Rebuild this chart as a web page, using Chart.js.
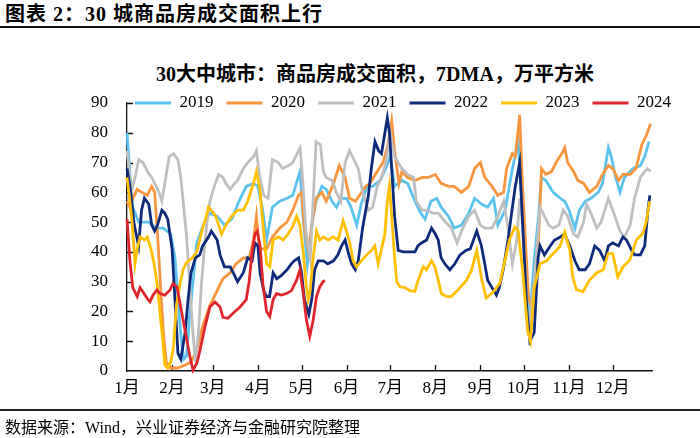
<!DOCTYPE html>
<html><head><meta charset="utf-8">
<script src="https://cdn.jsdelivr.net/npm/chart.js@4.4.1/dist/chart.umd.min.js"></script>
<style>
html,body{margin:0;padding:0;background:#fff;}
#wrap{position:relative;width:700px;height:438px;overflow:hidden;background:#fff;}
#c{position:absolute;left:0;top:0;}
.hdr{position:absolute;left:5px;top:14px;transform:translateY(-50%);font:bold 20px "Liberation Serif","Noto Sans CJK SC";letter-spacing:1px;color:#000;white-space:nowrap;line-height:1;}
.hl{position:absolute;left:0;top:26px;width:700px;height:2px;background:#111;}
.ttl{position:absolute;left:375px;top:74px;transform:translate(-50%,-50%);font:bold 20px "Liberation Serif","Noto Sans CJK SC";color:#000;white-space:nowrap;line-height:1;}
.fl{position:absolute;left:0;top:409px;width:700px;height:1.5px;background:#222;}
.ftr{position:absolute;left:5px;top:428px;transform:translateY(-50%);font:16px "Liberation Serif","Noto Sans CJK SC";color:#000;white-space:nowrap;line-height:1;}
</style></head>
<body>
<div id="wrap">
<div class="hdr">图表 2：30 城商品房成交面积上行</div>
<div class="hl"></div>
<div class="ttl">30大中城市：商品房成交面积，7DMA，万平方米</div>
<canvas id="c" width="700" height="438"></canvas>
<div class="fl"></div>
<div class="ftr">数据来源：Wind，兴业证券经济与金融研究院整理</div>
</div>
<script>
const monthLabels = ['1月','2月','3月','4月','5月','6月','7月','8月','9月','10月','11月','12月'];
const monthStarts = [0,31,59,90,120,151,181,212,243,273,304,334];
const seriesNames = ['2019','2020','2021','2022','2023','2024'];

const days2019 = [0,2,4,8,15,20,25,30,33,35,37,39,41,43,46,48,51,54,57,62,67,72,77,82,87,90,93,96,100,105,110,114,117,119,121,124,128,130,134,137,141,144,147,151,154,158,161,165,169,174,178,181,184,189,193,198,202,205,209,213,216,221,225,230,235,239,244,248,252,255,260,265,269,271,274,277,280,283,285,288,293,298,301,304,308,311,315,319,324,327,331,333,336,339,342,348,353,356,359];
const vals2019 = [80,66,55,50,50,48,48,46,38,25,12,4,5,18,33,43,47,51,53,52,49,51,57,62,63,62,55,44,55,57,58,59,64,67,52,36,52,57,62,61,57,55,58,58,55,49,56,62,62,64,68,72,62,64,63,57,53,51,57,58,55,52,48,49,53,58,56,55,58,49,54,68,77,60,35,18,37,52,65,64,60,58,57,54,48,54,57,58,60,63,75,72,65,60,65,68,69,72,77];

const days2020 = [0,2,4,7,10,14,17,19,21,23,25,27,30,35,40,44,48,52,57,62,66,71,75,80,84,87,89,91,96,100,105,110,114,118,120,122,125,127,130,134,137,142,146,150,153,157,160,164,167,172,176,179,182,184,187,189,193,198,203,207,212,216,221,225,230,235,239,243,246,251,255,259,261,265,267,269,270,272,276,279,282,284,285,288,292,295,299,301,303,307,310,314,318,323,327,331,334,338,341,346,350,354,357,360];
const vals2020 = [57,55,58,61,60,59,62,60,46,29,13,3,1,1,2,3,7,15,22,27,31,33,36,38,38,44,52,41,41,45,48,50,54,59,60,48,40,49,58,60,57,63,69,65,58,57,59,62,63,67,70,75,84,74,63,67,65,64,65,65,66,63,62,62,60,62,68,70,65,62,59,60,68,73,72,81,86,62,25,20,35,55,68,66,67,70,73,75,70,67,64,63,60,62,66,69,68,64,66,66,68,76,79,83];

const days2021 = [0,3,6,8,11,14,17,20,22,24,27,29,32,35,37,39,41,43,45,47,49,51,53,55,57,60,63,66,68,71,74,76,80,83,87,89,91,94,97,100,104,107,111,114,117,119,121,123,126,128,130,133,135,137,141,144,147,150,153,157,159,162,166,169,172,175,178,181,184,189,193,197,199,203,207,210,214,219,223,227,230,235,239,243,246,251,255,259,262,265,268,270,272,276,280,284,286,290,293,297,300,303,307,310,314,316,319,323,326,331,334,339,342,346,349,353,356,358,360];
const vals2021 = [74,60,66,71,70,67,65,62,60,57,66,72,73,71,65,55,45,30,15,3,12,28,40,50,57,62,66,65,63,61,63,64,68,70,72,74,66,59,58,71,70,68,69,70,73,75,63,47,38,57,77,76,67,65,64,60,57,70,74,70,68,60,54,55,62,65,70,80,72,68,66,65,57,54,54,53,53,50,48,43,47,52,54,49,48,48,52,57,48,36,44,58,50,12,30,55,53,49,48,49,54,52,46,45,50,56,53,48,50,58,54,47,45,49,58,65,67,68,67];

const days2022 = [0,2,5,8,10,12,15,17,19,21,24,26,28,31,33,35,37,40,42,44,47,50,52,56,58,62,64,67,71,73,76,80,83,86,88,90,91.5,94,96,98,100.5,103,106,110,113,115,118,120,122,125,127,129,131.5,135,138,142,145,147.5,150,152,154.5,157,159,162,166,168,170.5,173,175,177,179,180.5,182,184,186.5,190,194,198,200,202.5,206,209.4,212,214,216,218.5,222,225.4,229,233,236,240.5,243.7,246,248,251,254,256,258.7,262,265,267,270,272.5,275,277,280,282.7,284,287,291,294,298,301,304.5,308,311,315,318,321.6,325,328.5,331,334,338,341,343.4,347,349,353,356,358,359.5];
const vals2022 = [68,62,49,42,54,58,56,49,47,49,54,53,51,41,24,6,4,13,24,33,38,39,42,45,47,44,39,35,35,33,30,33,38,37,43,42,33,27,25,25,33,31,32,34,36,37,38,33,24,19,24,34,37,37,36,37,39,42,44,40,36,34,37,48,59,68,77,74,73,79,85,80,68,52,40.5,40,40,40,42,43,44,48,46,44,38,36,34,36,39,40.5,41,47,42,36,30.5,28,25.5,28,34,44,55,62,70,45,20,10,13,38,42,39,42,44,45,46,42,37,34,34,36,42,40.5,37,42,43,42,45,44,40.5,39,39,42,53,59];

const days2023 = [0,2,3.5,5.5,7,9,12,14,17,19,21,23,24.5,26,28,30,32,34,36,38.5,41,45,48,50,52,54,56,58,61,65,68,72,76,80,83,87,89,91.4,93.7,96,98.2,100.5,104,107.4,110.8,114.3,116.6,118.9,121.2,123.4,124.6,125.7,128,130.3,132.6,134.9,138.3,141.8,145.2,148.6,150.9,153.2,155.5,157.8,161.2,164.7,168.1,170.4,172.7,175,177.3,179,180.5,182,184,185.5,187.6,191,194.5,197.9,200.2,203.7,205.9,209.4,211.7,214,216.2,219.7,223.1,229,233.5,237,240.5,244,247,251.8,256.4,259.8,263,266.7,269,272,275.6,277.4,280,284,288.5,293,297.6,301,304.5,306.5,309,313.5,318,323,327.5,330.8,334,337.5,341,345.7,350.3,354.8,357,359.4];
const vals2023 = [65,57,50,36,41,45,44,45,40,35,28,18,11,2,1,3,8,22,28,34,36.5,38,40,44,48,51,55,54,52,46,49,52,54,54,57,63,67,61,48,36,35,44,45,44,46,49,52,49,40,28,24,26,38,47,44,45,44,45,44,50.5,47,43,37,35,37,39,40.5,42,36,41,46,57,62,52,38,30,28.3,28,27,26.7,30.5,35,34,37,35,30.5,26,25,25,28,30.5,34,40.6,30.5,24.5,26.5,29.5,37,44,48.3,47,34,13,10,28,36,37,39.4,41.7,46.6,40.6,31.6,27.3,26.6,30.5,33,34,39.4,39.4,31.6,35,37.2,44,46.3,50,57];

const days2024 = [0,2,4,7,9,11,13.7,15.8,17.9,20.6,22.7,26,29.6,31.6,34.4,36.4,39.9,43.3,45.4,48.1,50.2,53.6,57,60.5,64,66,69.4,72.9,77.7,82,84,86,88,89.5,91.5,93.5,96,98.2,100.5,102.8,106.3,109.7,113.1,116.6,118.9,121.2,123.4,125.7,128,130.3,132.6,134.9,136];
const vals2024 = [51,37,28,25,28,26.5,24.5,23.2,25.5,27.2,26,25.5,27.2,29.4,28.2,22.8,13.8,4.8,0.3,2.7,7,14.8,21.5,23.2,21.5,18,17.7,19.4,21.5,24,30,40,46,47,42,29,20,18.3,24,26,25.5,26,27,30.5,34,26,17,11.7,17,25,28.3,30,30.5];

const allDays = [days2019, days2020, days2021, days2022, days2023, days2024];
const allVals = [vals2019, vals2020, vals2021, vals2022, vals2023, vals2024];
const colors = ['#5CC3EE','#F7963F','#BFBFBF','#0E2A7B','#FFC000','#E0262C'];

const FONT = '"Liberation Serif", "Noto Sans CJK SC", serif';

const datasets = seriesNames.map((name, i) => ({
  label: name,
  data: allDays[i].map((d, j) => ({x: d, y: allVals[i][j]})),
  borderColor: colors[i],
  backgroundColor: colors[i],
  borderWidth: 2.8,
  pointRadius: 0,
  tension: 0,
  fill: false,
  clip: 6,
  order: seriesNames.length - i
}));

const innerTicks = {
  id: 'innerTicks',
  beforeDatasetsDraw(chart) {
    const {ctx, chartArea, scales} = chart;
    ctx.save();
    ctx.strokeStyle = '#111';
    ctx.lineWidth = 1.3;
    ctx.beginPath();
    scales.y.ticks.forEach(t => {
      if (t.value === 0) return;
      const y = Math.round(scales.y.getPixelForValue(t.value)) + 0.5;
      ctx.moveTo(chartArea.left, y);
      ctx.lineTo(chartArea.left + 6, y);
    });
    scales.x.ticks.forEach(t => {
      if (t.value === 0) return;
      const x = Math.round(scales.x.getPixelForValue(t.value)) + 0.5;
      ctx.moveTo(x, chartArea.bottom);
      ctx.lineTo(x, chartArea.bottom - 6);
    });
    ctx.stroke();
    ctx.restore();
  }
};

const placeLegend = {
  id: 'placeLegend',
  afterLayout(chart) {
    const lg = chart.legend;
    if (!lg) return;
    const h = lg.height;
    lg.left = 122;
    lg.right = 700;
    lg.top = 81.5;
    lg.bottom = lg.top + h;
  }
};

new Chart(document.getElementById('c'), {
  type: 'line',
  data: {datasets},
  options: {
    responsive: false,
    animation: false,
    events: [],
    layout: {padding: {top: 63, left: 0, right: 48, bottom: 37}},
    plugins: {
      title: {display: false},
      tooltip: {enabled: false},
      legend: {
        display: true,
        position: 'top',
        align: 'start',
        labels: {
          font: {family: FONT, size: 17},
          color: '#000',
          padding: 13,
          usePointStyle: true,
          pointStyle: 'line',
          pointStyleWidth: 36,
          sort: (a, b) => a.datasetIndex - b.datasetIndex
        }
      }
    },
    scales: {
      x: {
        type: 'linear',
        min: 0,
        max: 361,
        afterFit: s => { s.height = 30; },
        afterBuildTicks: s => { s.ticks = monthStarts.map(v => ({value: v})); },
        grid: {display: false, drawTicks: false},
        border: {display: true, color: '#111', width: 1.6},
        ticks: {
          autoSkip: false,
          maxRotation: 0,
          padding: 7,
          color: '#000',
          font: {family: FONT, size: 17},
          callback: (v, i) => monthLabels[i]
        }
      },
      y: {
        min: 0,
        max: 90,
        afterFit: s => { s.width = 127; },
        grid: {display: false, drawTicks: false},
        border: {display: true, color: '#111', width: 1.3},
        ticks: {
          stepSize: 10,
          padding: 19,
          color: '#000',
          font: {family: FONT, size: 17}
        }
      }
    }
  },
  plugins: [innerTicks, placeLegend]
});
</script>
</body></html>
